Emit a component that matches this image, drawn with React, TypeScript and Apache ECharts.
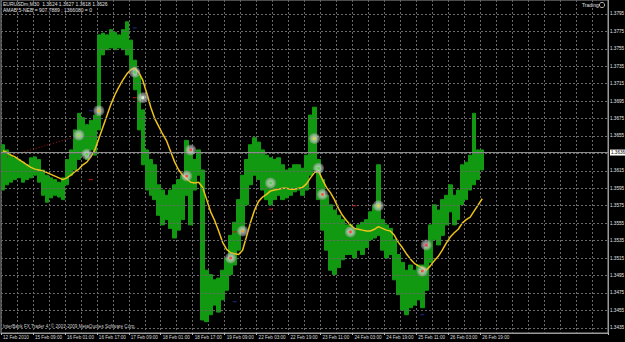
import React, { useEffect, useRef } from "react";
import * as echarts from "echarts";

// time labels, one every 8 slots (each slot = 4 bars of M30)
const timeLabels = [
  "12 Feb 2010", "15 Feb 09:00", "16 Feb 01:00", "16 Feb 17:00", "17 Feb 09:00",
  "18 Feb 01:00", "18 Feb 17:00", "19 Feb 09:00", "22 Feb 03:00", "22 Feb 19:00",
  "23 Feb 11:00", "24 Feb 03:00", "24 Feb 19:00", "25 Feb 11:00", "26 Feb 03:00",
  "26 Feb 19:00",
];
const slotCount = 152;

const highs = [
  1.3645, 1.3639, 1.3633, 1.3630, 1.3628, 1.3625, 1.3622, 1.3630, 1.3631, 1.3628,
  1.3616, 1.3610, 1.3607, 1.3605, 1.3602, 1.3607, 1.3628, 1.3639, 1.3662, 1.3681,
  1.3676, 1.3668, 1.3673, 1.3679, 1.3771, 1.3773, 1.3771, 1.3777, 1.3774, 1.3771,
  1.3777, 1.3786, 1.3765, 1.3742, 1.3725, 1.3685, 1.3639, 1.3628, 1.3622, 1.3599,
  1.3593, 1.3587, 1.3593, 1.3599, 1.3605, 1.3610, 1.3650, 1.3639, 1.3628, 1.3639,
  1.3616, 1.3501, 1.3496, 1.3490, 1.3492, 1.3501, 1.3515, 1.3541, 1.3556, 1.3582,
  1.3610, 1.3628, 1.3645, 1.3653, 1.3648, 1.3639, 1.3633, 1.3630, 1.3628, 1.3630,
  1.3622, 1.3616, 1.3618, 1.3622, 1.3622, 1.3618, 1.3633, 1.3679, 1.3688, 1.3628,
  1.3605, 1.3587, 1.3576, 1.3570, 1.3564, 1.3559, 1.3553, 1.3553, 1.3549, 1.3553,
  1.3556, 1.3559, 1.3568, 1.3576, 1.3622, 1.3559, 1.3553, 1.3549, 1.3536, 1.3519,
  1.3510, 1.3501, 1.3507, 1.3501, 1.3507, 1.3507, 1.3527, 1.3553, 1.3576, 1.3570,
  1.3582, 1.3587, 1.3599, 1.3587, 1.3593, 1.3622, 1.3625, 1.3633, 1.3681, 1.3639,
  1.3639,
];
const lows = [
  1.3593, 1.3599, 1.3602, 1.3605, 1.3607, 1.3602, 1.3605, 1.3607, 1.3610, 1.3602,
  1.3587, 1.3579, 1.3584, 1.3587, 1.3585, 1.3582, 1.3599, 1.3610, 1.3616, 1.3628,
  1.3633, 1.3628, 1.3639, 1.3633, 1.3662, 1.3748, 1.3754, 1.3756, 1.3754, 1.3756,
  1.3754, 1.3748, 1.3731, 1.3708, 1.3662, 1.3622, 1.3593, 1.3587, 1.3582, 1.3564,
  1.3553, 1.3559, 1.3549, 1.3538, 1.3547, 1.3559, 1.3587, 1.3553, 1.3593, 1.3610,
  1.3444, 1.3442, 1.3450, 1.3461, 1.3453, 1.3467, 1.3478, 1.3496, 1.3507, 1.3524,
  1.3547, 1.3576, 1.3599, 1.3610, 1.3605, 1.3593, 1.3582, 1.3576, 1.3582, 1.3587,
  1.3582, 1.3584, 1.3587, 1.3591, 1.3593, 1.3587, 1.3593, 1.3610, 1.3616, 1.3582,
  1.3547, 1.3524, 1.3501, 1.3496, 1.3504, 1.3513, 1.3519, 1.3519, 1.3515, 1.3524,
  1.3519, 1.3527, 1.3536, 1.3538, 1.3541, 1.3524, 1.3515, 1.3519, 1.3490, 1.3473,
  1.3455, 1.3450, 1.3458, 1.3461, 1.3467, 1.3458, 1.3478, 1.3510, 1.3536, 1.3530,
  1.3541, 1.3553, 1.3568, 1.3553, 1.3559, 1.3576, 1.3582, 1.3593, 1.3599, 1.3605,
  1.3616,
];
const maValues = [
  1.3638, 1.3636, 1.3633, 1.3631, 1.3628, 1.3625, 1.3622, 1.3619, 1.3617, 1.3616,
  1.3615, 1.3613, 1.3611, 1.3609, 1.3607, 1.3605, 1.3607, 1.3610, 1.3614, 1.3617,
  1.3622, 1.3625, 1.3631, 1.3639, 1.3652, 1.3665, 1.3678, 1.3691, 1.3702, 1.3711,
  1.3719, 1.3726, 1.3731, 1.3733, 1.3728, 1.3719, 1.3704, 1.3688, 1.3675, 1.3666,
  1.3657, 1.3649, 1.3637, 1.3625, 1.3616, 1.3610, 1.3606, 1.3602, 1.3601, 1.3602,
  1.3596, 1.3582, 1.3568, 1.3558, 1.3546, 1.3533, 1.3525, 1.3521, 1.3520, 1.3519,
  1.3524, 1.3540, 1.3556, 1.3570, 1.3580, 1.3585, 1.3588, 1.3592, 1.3593, 1.3594,
  1.3595, 1.3595, 1.3594, 1.3594, 1.3595, 1.3596, 1.3600, 1.3607, 1.3613, 1.3615,
  1.3605, 1.3596, 1.3590, 1.3582, 1.3572, 1.3564, 1.3558, 1.3553, 1.3549, 1.3548,
  1.3547, 1.3546, 1.3546, 1.3548, 1.3551, 1.3549, 1.3547, 1.3546, 1.3541, 1.3533,
  1.3527, 1.3520, 1.3514, 1.3509, 1.3506, 1.3504, 1.3501, 1.3506, 1.3512, 1.3517,
  1.3524, 1.3532, 1.3539, 1.3544, 1.3548, 1.3555, 1.3559, 1.3562, 1.3569, 1.3576,
  1.3583,
];

const priceTicks = [
  1.3795, 1.3775, 1.3755, 1.3735, 1.3715, 1.3695, 1.3675, 1.3655, 1.3615,
  1.3595, 1.3575, 1.3555, 1.3535, 1.3515, 1.3495, 1.3475, 1.3455, 1.3435,
];
const hiddenTicks = [1.3635];
const currentPrice = 1.3636;
const yMin = 1.3429;
const yMax = 1.3811;

const signalIdx = [19, 21, 24, 33, 35, 47, 46, 60, 57, 67, 78, 79, 80, 87, 94, 106, 105];
const signalPrice = [
  1.3656, 1.3634, 1.3684, 1.3728, 1.3699, 1.3639, 1.3609, 1.3546, 1.3515,
  1.3601, 1.3652, 1.3618, 1.3588, 1.3545, 1.3575, 1.3530, 1.3500,
];
const signalColor = [
  "#8fe03a", "#3fd13f", "#f0b020", "#3fd13f", "#e8ffe8", "#ff3030", "#ff3030",
  "#f0a020", "#ff3030", "#3fd13f", "#f0d020", "#3fd13f", "#ff4020", "#ff3030",
  "#f0d020", "#ff3030", "#ff3030",
];

const trendIdx = [1, 18];
const trendPrice = [1.3631, 1.3654];

const dashIdx = [33, 22, 58, 67, 88, 22, 33, 105, 58];
const dashPrice = [1.3699, 1.3605, 1.3545, 1.3571, 1.3575, 1.3684, 1.3779, 1.3450, 1.3465];
const dashColor = [
  "#c01818", "#c01818", "#c01818", "#c01818", "#c01818",
  "#1a2a8a", "#1a2a8a", "#1a2a8a", "#1a2a8a",
];

const FONT = "Liberation Sans";

export default function App() {
  const ref = useRef<HTMLDivElement>(null);

  useEffect(() => {
    if (!ref.current) return;
    const chart = echarts.init(ref.current, undefined, { renderer: "svg" });

    const categories: string[] = [];
    for (let i = 0; i < slotCount; i++) {
      categories.push(i % 8 === 0 && i / 8 < timeLabels.length ? timeLabels[i / 8] : "");
    }

    const candles = highs.map((h, i) => [lows[i], h, lows[i], h]);

    const markData: any[] = priceTicks.map((v) => ({
      yAxis: v,
      label: { formatter: v.toFixed(4) },
    }));
    hiddenTicks.forEach((v) => markData.push({ yAxis: v, label: { show: false } }));
    markData.push({
      yAxis: currentPrice,
      lineStyle: { type: "solid", color: "#8c8c8c", width: 1 },
      label: {
        formatter: currentPrice.toFixed(4),
        backgroundColor: "#ffffff",
        color: "#000000",
        padding: [1, 1, 0, 1],
      },
    });

    const option: any = {
      animation: false,
      backgroundColor: "#000000",
      grid: {
        left: 0,
        top: 0,
        right: 17,
        bottom: 9,
        show: true,
        borderColor: "#9a9a9a",
        borderWidth: 1,
        backgroundColor: "#000000",
      },
      xAxis: {
        type: "category",
        data: categories,
        boundaryGap: true,
        axisLine: { show: true, lineStyle: { color: "#9a9a9a" } },
        axisTick: {
          show: true,
          length: 2,
          interval: (i: number) => i % 8 === 0 && i / 8 < timeLabels.length,
          lineStyle: { color: "#bbbbbb" },
        },
        axisLabel: {
          interval: 0,
          align: "left",
          margin: 2,
          color: "#d8d8d8",
          fontSize: 4.6,
          fontFamily: FONT,
        },
        splitLine: {
          show: true,
          interval: (i: number) => i % 4 === 0,
          lineStyle: { color: "#6a6a6a", type: [2, 2], width: 1 },
        },
      },
      yAxis: {
        type: "value",
        position: "right",
        min: yMin,
        max: yMax,
        axisLine: { show: true, lineStyle: { color: "#9a9a9a" } },
        axisTick: { show: false },
        axisLabel: { show: false },
        splitLine: { show: false },
      },
      graphic: [
        {
          type: "text",
          left: 3,
          top: 1,
          style: {
            text: "EURUSDm,M30  1.3624 1.3627 1.3618 1.3626",
            fill: "#e0e0e0",
            fontSize: 5,
            fontFamily: FONT,
          },
        },
        {
          type: "text",
          left: 3,
          top: 7,
          style: {
            text: "AMAB 5-NEB = 907.7889 ; 1366080 = 0",
            fill: "#e0e0e0",
            fontSize: 5,
            fontFamily: FONT,
          },
        },
        {
          type: "text",
          left: 582,
          top: 2,
          style: { text: "Trading", fill: "#e0e0e0", fontSize: 5, fontFamily: FONT },
        },
        {
          type: "circle",
          shape: { cx: 602, cy: 5, r: 2.6 },
          style: { fill: "none", stroke: "#dddddd", lineWidth: 0.8 },
        },
        {
          type: "text",
          left: 3,
          top: 324,
          style: {
            text: "InterBank FX Trader 4, © 2001-2009 MetaQuotes Software Corp.",
            fill: "#c8c8c8",
            fontSize: 4.6,
            fontFamily: FONT,
          },
        },
      ],
      series: [
        {
          type: "line",
          data: maValues,
          z: 1,
          silent: true,
          showSymbol: false,
          lineStyle: { opacity: 0 },
          markLine: {
            silent: true,
            precision: 4,
            symbol: ["none", "none"],
            animation: false,
            lineStyle: { type: [2, 2], color: "#6a6a6a", width: 1 },
            label: {
              position: "end",
              distance: 2,
              color: "#e6e6e6",
              fontSize: 4.6,
              fontFamily: FONT,
            },
            data: markData,
          },
        },
        {
          type: "candlestick",
          data: candles,
          barWidth: 4,
          z: 2,
          itemStyle: {
            color: "#119911",
            color0: "#119911",
            borderColor: "#119911",
            borderColor0: "#119911",
            borderWidth: 1,
          },
        },
        {
          type: "line",
          data: trendIdx.map((x, k) => [x, trendPrice[k]]),
          z: 3,
          showSymbol: false,
          lineStyle: { color: "#a01818", width: 1, type: [1, 2] },
        },
        {
          type: "line",
          data: maValues,
          z: 4,
          showSymbol: false,
          lineStyle: { color: "#eec21c", width: 1.5 },
        },
        {
          type: "scatter",
          data: dashIdx.map((x, k) => ({
            value: [x, dashPrice[k]],
            itemStyle: { color: dashColor[k] },
          })),
          symbol: "rect",
          symbolSize: [4, 1.3],
          z: 5,
        },
        {
          type: "scatter",
          data: signalIdx.map((x, k) => [x, signalPrice[k]]),
          symbolSize: 11,
          z: 6,
          itemStyle: {
            color: new echarts.graphic.RadialGradient(0.5, 0.5, 0.5, [
              { offset: 0, color: "rgba(245,245,245,0.95)" },
              { offset: 0.6, color: "rgba(205,205,205,0.8)" },
              { offset: 1, color: "rgba(160,160,160,0.55)" },
            ]),
          },
        },
        {
          type: "scatter",
          data: signalIdx.map((x, k) => ({
            value: [x, signalPrice[k]],
            itemStyle: { color: signalColor[k] },
          })),
          symbolSize: 3,
          z: 7,
        },
      ],
    };

    chart.setOption(option);
    return () => chart.dispose();
  }, []);

  return (
    <div
      ref={ref}
      style={{ position: "fixed", left: 0, top: 0, width: 625, height: 342, background: "#000" }}
    />
  );
}
